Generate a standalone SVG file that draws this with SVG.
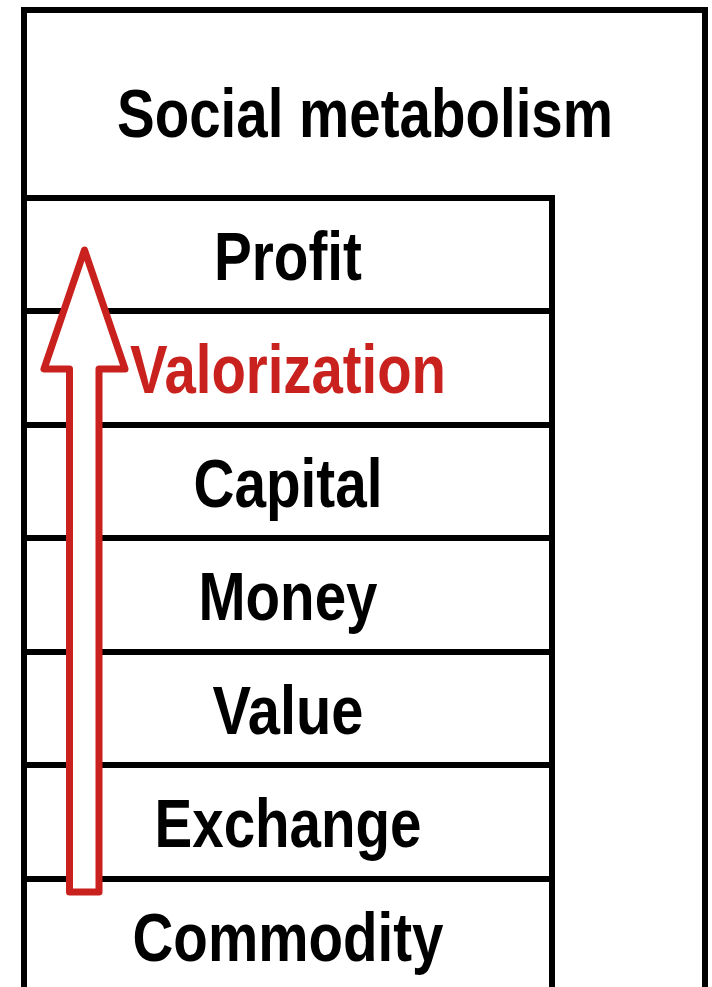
<svg xmlns="http://www.w3.org/2000/svg" width="712" height="987" viewBox="0 0 712 987">
<style>
.box{fill:#ffffff;stroke:#000000;stroke-width:6;stroke-linejoin:miter}
.sep{stroke:#000000;stroke-width:6;fill:none}
.t{font-family:"Liberation Sans Narrow","Liberation Sans",Arial,sans-serif;font-weight:bold;font-size:69px;text-anchor:middle;fill:#000000}
.red{fill:#c9211e}
.arrow{fill:#ffffff;stroke:#c9211e;stroke-width:7;stroke-linejoin:round}
</style>
<rect width="712" height="987" fill="#ffffff"/>
<g id="social-metabolism">
<rect class="box" x="24" y="10" width="681" height="1000"/>
<text class="t" x="365" y="137" textLength="496" lengthAdjust="spacingAndGlyphs">Social metabolism</text>
</g>
<g id="stack">
<rect class="box" x="24" y="198" width="528" height="812"/>
</g>
<g id="separators">
<line class="sep" x1="24" y1="311" x2="552" y2="311"/>
<line class="sep" x1="24" y1="425" x2="552" y2="425"/>
<line class="sep" x1="24" y1="538" x2="552" y2="538"/>
<line class="sep" x1="24" y1="652" x2="552" y2="652"/>
<line class="sep" x1="24" y1="765" x2="552" y2="765"/>
<line class="sep" x1="24" y1="879" x2="552" y2="879"/>
</g>
<g id="connectors">
<polygon id="valorization-arrow" class="arrow" points="69.5,892 99,892 99,369 125,369 84.5,250 44,369 69.5,369"/>
</g>
<g id="profit"><text class="t" x="288" y="280" textLength="148" lengthAdjust="spacingAndGlyphs">Profit</text></g>
<g id="valorization"><text class="t red" x="288" y="393" textLength="316" lengthAdjust="spacingAndGlyphs">Valorization</text></g>
<g id="capital"><text class="t" x="288" y="507" textLength="189" lengthAdjust="spacingAndGlyphs">Capital</text></g>
<g id="money"><text class="t" x="288" y="620" textLength="179" lengthAdjust="spacingAndGlyphs">Money</text></g>
<g id="value"><text class="t" x="288" y="734" textLength="151" lengthAdjust="spacingAndGlyphs">Value</text></g>
<g id="exchange"><text class="t" x="288" y="847" textLength="267" lengthAdjust="spacingAndGlyphs">Exchange</text></g>
<g id="commodity"><text class="t" x="288" y="961" textLength="311" lengthAdjust="spacingAndGlyphs">Commodity</text></g>
</svg>
